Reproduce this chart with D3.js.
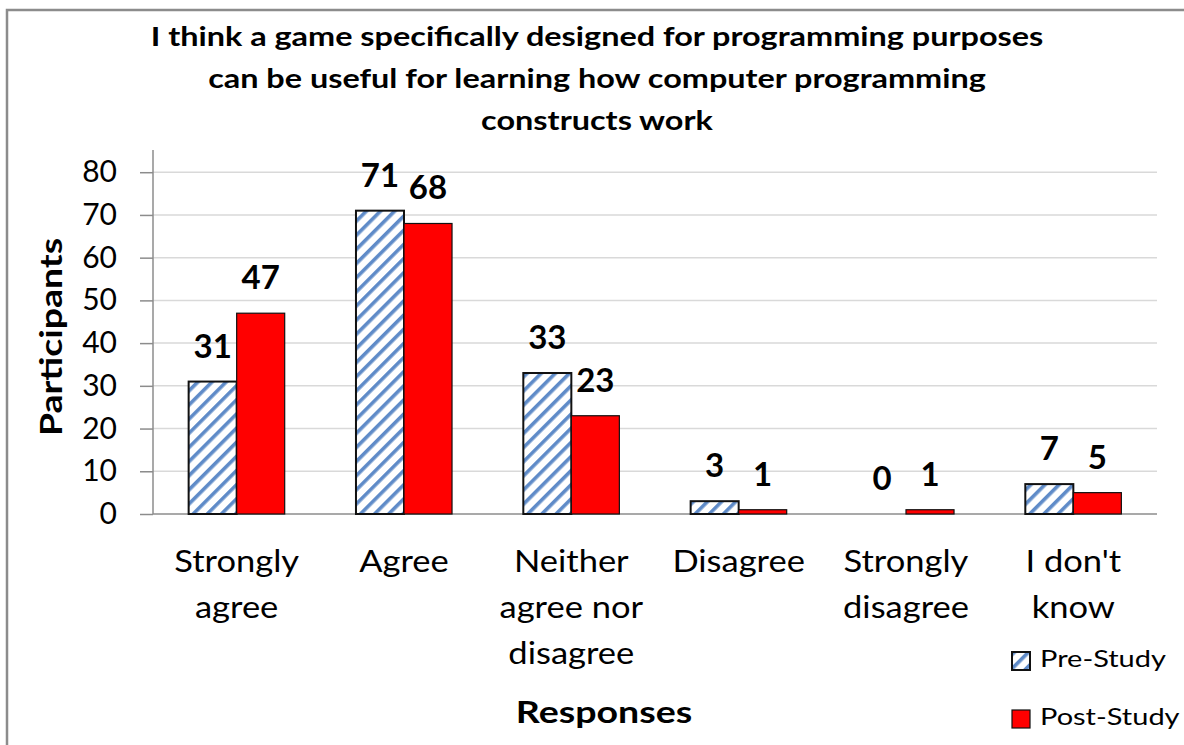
<!DOCTYPE html>
<html>
<head>
<meta charset="utf-8">
<script src="https://cdn.jsdelivr.net/npm/d3@7/dist/d3.min.js"></script>
<style>
  html, body { margin: 0; padding: 0; background: #fff; }
  svg { display: block; }
  text { font-family: Lato, "Open Sans", sans-serif; fill: #000; }
</style>
</head>
<body>
<svg id="chart" width="1184" height="745"></svg>
<script>
// Survey responses, pre- and post-study
const categories = [
  ["Strongly", "agree"],
  ["Agree"],
  ["Neither", "agree nor", "disagree"],
  ["Disagree"],
  ["Strongly", "disagree"],
  ["I don't", "know"]
];
const preStudy  = [31, 71, 33, 3, 0, 7];
const postStudy = [47, 68, 23, 1, 1, 5];
const seriesNames = ["Pre-Study", "Post-Study"];
const yTicks = [0, 10, 20, 30, 40, 50, 60, 70, 80];
const titleLines = [
  "I think a game specifically designed for programming purposes",
  "can be useful for learning how computer programming",
  "constructs work"
];

const svg = d3.select("#chart");

// widen glyph runs horizontally by a factor, keeping their anchor
function widen(sel, factor) {
  sel.each(function () {
    const len = this.getComputedTextLength();
    d3.select(this)
      .attr("textLength", len * factor)
      .attr("lengthAdjust", "spacingAndGlyphs");
  });
}

// striped fill for the pre-study bars
const defs = svg.append("defs");
const pat = defs.append("pattern")
  .attr("id", "stripes")
  .attr("patternUnits", "userSpaceOnUse")
  .attr("width", 10).attr("height", 10)
  .attr("patternTransform", "rotate(45)");
pat.append("rect").attr("width", 10).attr("height", 10).attr("fill", "#fff");
pat.append("rect").attr("x", 0).attr("width", 3.6).attr("height", 10).attr("fill", "#5f8bc8");

// outer frame
svg.append("rect")
  .attr("x", 7).attr("y", 10).attr("width", 1190).attr("height", 760)
  .attr("fill", "none").attr("stroke", "#8c8c8c").attr("stroke-width", 2.5);

const plot = { left: 153, right: 1157, top: 150, bottom: 514 };

const x0 = d3.scaleBand()
  .domain(d3.range(categories.length))
  .range([plot.left, plot.right])
  .paddingInner(0).paddingOuter(0);
const inner = 0.574;
const x1 = d3.scaleBand()
  .domain([0, 1])
  .range([x0.bandwidth() * (1 - inner) / 2, x0.bandwidth() * (1 + inner) / 2]);

const y = d3.scaleLinear().domain([0, 85.2]).range([plot.bottom, plot.top]);

// gridlines
svg.append("g")
  .selectAll("line")
  .data(yTicks.filter(d => d > 0))
  .join("line")
  .attr("x1", plot.left).attr("x2", plot.right)
  .attr("y1", d => y(d)).attr("y2", d => y(d))
  .attr("stroke", "#d9d9d9").attr("stroke-width", 1.5);

// y axis
const yAxis = d3.axisLeft(y).tickValues(yTicks).tickSize(13).tickPadding(23);
const yg = svg.append("g").attr("transform", `translate(${plot.left},0)`).call(yAxis);
yg.select(".domain").attr("stroke", "#8c8c8c").attr("stroke-width", 1.5)
  .attr("d", `M0,${plot.top}V${plot.bottom}`);
yg.selectAll(".tick line").attr("stroke", "#8c8c8c").attr("stroke-width", 1.5);
yg.selectAll(".tick text").attr("font-size", 30).attr("font-family", "Lato").attr("fill", "#000");

// x axis baseline
svg.append("line")
  .attr("x1", plot.left).attr("x2", plot.right)
  .attr("y1", plot.bottom).attr("y2", plot.bottom)
  .attr("stroke", "#8c8c8c").attr("stroke-width", 1.5);

// bars
const rows = categories.map((c, i) => ({ i, vals: [preStudy[i], postStudy[i]] }));
const groups = svg.append("g").selectAll("g")
  .data(rows).join("g")
  .attr("transform", d => `translate(${x0(d.i)},0)`);

groups.selectAll("rect")
  .data(d => d.vals.map((v, s) => ({ v, s })).filter(e => e.v > 0))
  .join("rect")
  .attr("x", e => x1(e.s))
  .attr("width", x1.bandwidth())
  .attr("y", e => y(e.v))
  .attr("height", e => y(0) - y(e.v))
  .attr("fill", e => e.s === 0 ? "url(#stripes)" : "#ff0000")
  .attr("stroke", "#111")
  .attr("stroke-width", e => e.s === 0 ? 2 : 1.2);

// value labels
groups.selectAll("text.val")
  .data(d => d.vals.map((v, s) => ({ v, s })))
  .join("text")
  .attr("class", "val")
  .attr("x", e => x1(e.s) + x1.bandwidth() / 2)
  .attr("y", e => y(e.v) - 24)
  .attr("text-anchor", "middle")
  .attr("font-size", 33)
  .attr("font-weight", "bold")
  .text(e => e.v);

// category labels
const catSpans = groups.append("text")
  .attr("text-anchor", "middle")
  .attr("font-size", 30)
  .selectAll("tspan")
  .data(d => categories[d.i])
  .join("tspan")
  .attr("x", x0.bandwidth() / 2)
  .attr("y", (d, k) => 572 + k * 46)
  .text(d => d);
widen(catSpans, 1.15);

// title
const titleSpans = svg.append("text")
  .attr("text-anchor", "middle")
  .attr("font-size", 27)
  .attr("font-weight", "bold")
  .selectAll("tspan")
  .data(titleLines)
  .join("tspan")
  .attr("x", 597)
  .attr("y", (d, k) => 46 + k * 42)
  .text(d => d);
widen(titleSpans, 1.2);

// axis titles
const yTitle = svg.append("text")
  .attr("transform", "translate(62,337) rotate(-90)")
  .attr("text-anchor", "middle")
  .attr("font-size", 30)
  .attr("font-weight", "bold")
  .text("Participants");
widen(yTitle, 1.245);

const xTitle = svg.append("text")
  .attr("x", 604).attr("y", 723)
  .attr("text-anchor", "middle")
  .attr("font-size", 30)
  .attr("font-weight", "bold")
  .text("Responses");
widen(xTitle, 1.25);

// legend
const legend = svg.append("g").selectAll("g")
  .data(seriesNames).join("g")
  .attr("transform", (d, k) => `translate(1012,${652 + k * 58})`);
legend.append("rect")
  .attr("width", 18).attr("height", 18)
  .attr("fill", (d, k) => k === 0 ? "url(#stripes)" : "#ff0000")
  .attr("stroke", "#111").attr("stroke-width", (d, k) => k === 0 ? 2 : 1.2);
const legendText = legend.append("text")
  .attr("x", 28).attr("y", 15)
  .attr("font-size", 23)
  .text(d => d);
widen(legendText, 1.26);
</script>
</body>
</html>
